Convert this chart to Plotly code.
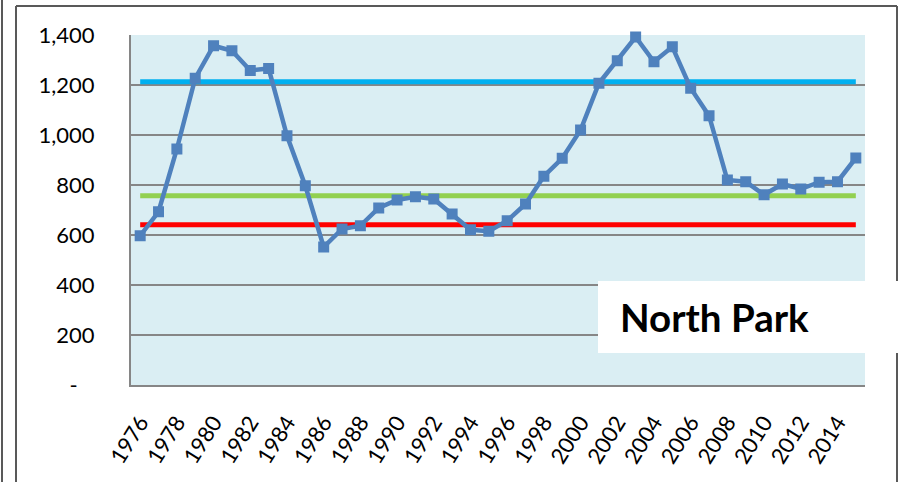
import plotly.graph_objects as go

years = list(range(1976, 2016))
north_park = [597, 693, 944, 1227, 1357, 1337, 1258, 1266, 997, 797,
              552, 624, 637, 708, 740, 753, 744, 684, 621, 615,
              657, 724, 835, 907, 1020, 1207, 1297, 1392, 1293, 1353,
              1187, 1077, 820, 813, 761, 804, 784, 811, 813, 908]
high_level = [1213] * len(years)
mid_level = [757] * len(years)
low_level = [641] * len(years)

y_tickvals = [0, 200, 400, 600, 800, 1000, 1200, 1400]
y_ticktext = ["-\u00a0\u00a0\u00a0", "200", "400", "600", "800", "1,000", "1,200", "1,400"]
x_tickvals = list(range(1976, 2016, 2))
title_text = "North Park"

W, H = 903, 482
L, R, T, B = 131, 865, 35, 385


def px(x):
    return (x - L) / (R - L)


def py(y):
    return (B - y) / (B - T)


fig = go.Figure()
fig.add_trace(go.Scatter(x=years, y=high_level, mode="lines",
                         line=dict(color="#00B0F0", width=5), hoverinfo="skip"))
fig.add_trace(go.Scatter(x=years, y=mid_level, mode="lines",
                         line=dict(color="#92D050", width=5), hoverinfo="skip"))
fig.add_trace(go.Scatter(x=years, y=low_level, mode="lines",
                         line=dict(color="#FF0000", width=5), hoverinfo="skip"))
fig.add_trace(go.Scatter(x=years, y=north_park, mode="lines+markers",
                         line=dict(color="#4F81BD", width=4.5),
                         marker=dict(symbol="square", size=11, color="#4F81BD"),
                         cliponaxis=False))

frame = dict(color="#595959", width=2)
shapes = [
    dict(type="line", xref="paper", yref="paper", x0=px(2), x1=px(2), y0=py(0), y1=py(482), line=frame),
    dict(type="line", xref="paper", yref="paper", x0=px(16), x1=px(16), y0=py(6), y1=py(482), line=frame),
    dict(type="line", xref="paper", yref="paper", x0=px(16), x1=px(897), y0=py(6), y1=py(6), line=frame),
    dict(type="line", xref="paper", yref="paper", x0=px(897), x1=px(897), y0=py(6), y1=py(482), line=frame),
    dict(type="rect", xref="paper", yref="paper", x0=px(598), x1=px(900), y0=py(281), y1=py(353),
         fillcolor="white", line=dict(width=0), layer="above"),
]

fig.update_layout(
    width=W, height=H,
    margin=dict(l=L, r=W - R, t=T, b=H - B),
    paper_bgcolor="white",
    plot_bgcolor="#DAEEF3",
    showlegend=False,
    font=dict(family="Lato, Carlito, sans-serif", color="black"),
    shapes=shapes,
    annotations=[dict(text="<b>" + title_text + "</b>", xref="paper", yref="paper",
                      x=px(618), y=py(317), xanchor="left", yanchor="middle",
                      showarrow=False, font=dict(size=38.5, color="black"))],
    xaxis=dict(range=[1975.5, 2015.5], tickvals=x_tickvals, tickangle=-58,
               showgrid=False, zeroline=False, showline=True, linecolor="#868686", linewidth=2,
               ticks="", tickfont=dict(size=22), ticklabelstandoff=14),
    yaxis=dict(range=[0, 1400], tickvals=y_tickvals, ticktext=y_ticktext,
               showgrid=True, gridcolor="#868686", gridwidth=2, zeroline=False,
               showline=True, linecolor="#868686", linewidth=2,
               ticks="", tickfont=dict(size=22), ticklabelstandoff=30),
)

fig.write_html("out.html", config={"displayModeBar": False},
               post_script="document.body.style.margin='0';document.body.style.overflow='hidden';")
